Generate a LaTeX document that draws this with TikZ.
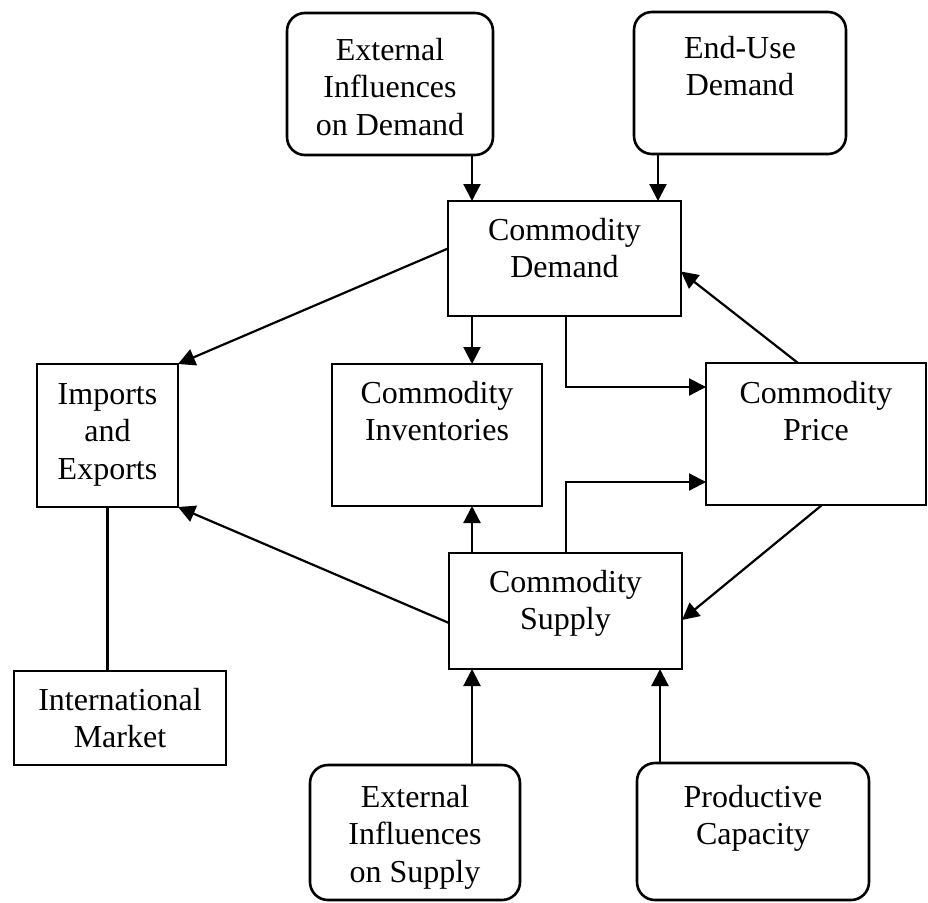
\documentclass[tikz,border=0pt]{standalone}
\usepackage{fontspec}
\setmainfont{Liberation Serif}
\usetikzlibrary{arrows.meta}
\begin{document}
\begin{tikzpicture}[x=1pt,y=-1pt,
  box/.style={draw, line width=2.6pt, inner sep=0pt, outer sep=0pt},
  rbox/.style={box, rounded corners=18pt},
  lbl/.style={anchor=north, inner sep=0pt, align=center,
              font=\fontsize{32}{37.5}\selectfont},
  arr/.style={line width=2.2pt, -{Triangle[length=17pt,width=17pt]}},
  link/.style={line width=2.2pt}]
\useasboundingbox (0,0) rectangle (928,902);

% outside influences (rounded boxes)
\node[rbox, minimum width=206pt, minimum height=142pt,
      label={[lbl,yshift=-25pt]north:{External\\Influences\\on Demand}}]
  (extD) at (390,84) {};
\node[rbox, minimum width=212pt, minimum height=142pt,
      label={[lbl,yshift=-24pt]north:{End-Use\\Demand}}]
  (endU) at (740,83) {};
\node[rbox, minimum width=210pt, minimum height=135pt,
      label={[lbl,yshift=-20pt]north:{External\\Influences\\on Supply}}]
  (extS) at (415,832.5) {};
\node[rbox, minimum width=232pt, minimum height=137pt,
      label={[lbl,yshift=-22pt]north:{Productive\\Capacity}}]
  (prod) at (753,831.5) {};

% market blocks
\node[box, minimum width=233pt, minimum height=115pt,
      label={[lbl,yshift=-17pt]north:{Commodity\\Demand}}]
  (dem) at (564.5,258.5) {};
\node[box, minimum width=141pt, minimum height=143pt,
      label={[lbl,yshift=-19pt]north:{Imports\\and\\Exports}}]
  (imp) at (107.5,435.5) {};
\node[box, minimum width=210pt, minimum height=142pt,
      label={[lbl,yshift=-17pt]north:{Commodity\\Inventories}}]
  (inv) at (437,435) {};
\node[box, minimum width=220pt, minimum height=142pt,
      label={[lbl,yshift=-18pt]north:{Commodity\\Price}}]
  (price) at (816,434) {};
\node[box, minimum width=233pt, minimum height=116pt,
      label={[lbl,yshift=-17pt]north:{Commodity\\Supply}}]
  (sup) at (565.5,611) {};
\node[box, minimum width=212pt, minimum height=94pt,
      label={[lbl,yshift=-17pt]north:{International\\Market}}]
  (intl) at (120,718) {};

% demand side
\draw[arr] ([xshift=24pt]dem.north west |- extD.south) -- ([xshift=24pt]dem.north west);
\draw[arr] ([xshift=24pt]endU.south west) -- ([xshift=24pt]endU.south west |- dem.north);
\draw[arr] ([xshift=24pt]dem.south west) -- ([xshift=24pt]dem.south west |- inv.north);
\draw[arr] ([xshift=118pt]dem.south west) |- ([yshift=-24pt]price.north west);
\draw[arr] ([yshift=10pt]dem.west) -- (imp.north east);

% price feedback
\draw[arr] ([xshift=92pt]price.north west) -- ([yshift=-13pt]dem.east);
\draw[arr] ([xshift=116pt]price.south west) -- ([yshift=-9pt]sup.east);

% supply side
\draw[arr] ([xshift=117pt]sup.north west) |- ([yshift=23pt]price.south west);
\draw[arr] ([xshift=23pt]sup.north west) -- ([xshift=23pt]sup.north west |- inv.south);
\draw[arr] ([yshift=-12pt]sup.west) -- (imp.south east);
\draw[arr] ([xshift=23pt]sup.south west |- extS.north) -- ([xshift=23pt]sup.south west);
\draw[arr] ([xshift=23pt]prod.north west) -- ([xshift=23pt]prod.north west |- sup.south);

% trade link
\draw[link] (imp.south) -- (imp.south |- intl.north);
\end{tikzpicture}
\end{document}
